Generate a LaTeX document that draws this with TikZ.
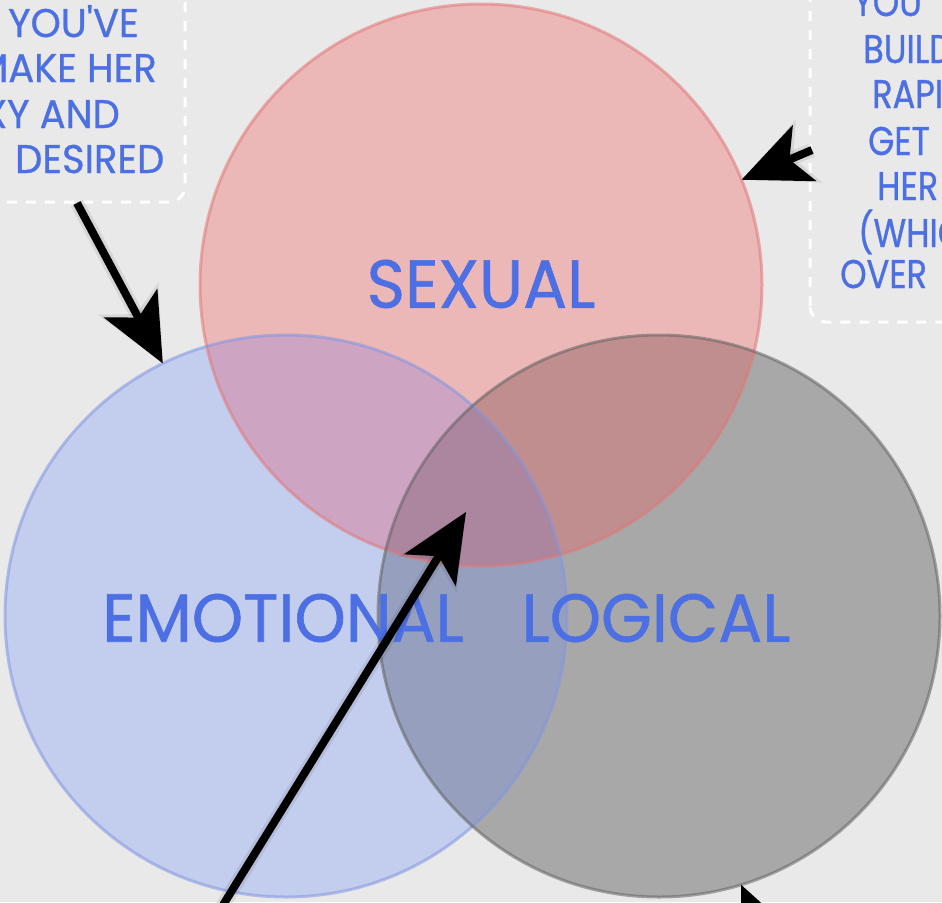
\documentclass[tikz,border=0pt]{standalone}
\usepackage{fontspec}
\setmainfont{Poppins}[FakeStretch=0.96, FakeBold=0.8]
\newfontfamily\narrowpop{Poppins}[FakeStretch=0.84, FakeBold=0.8]
\usetikzlibrary{arrows.meta}
\definecolor{bgc}{RGB}{233,233,233}
\definecolor{rOnly}{RGB}{236,183,183}
\definecolor{bOnly}{RGB}{195,205,238}
\definecolor{gOnly}{RGB}{168,168,168}
\definecolor{rb}{RGB}{205,165,195}
\definecolor{rg}{RGB}{192,142,142}
\definecolor{bgr}{RGB}{150,160,190}
\definecolor{rbg}{RGB}{172,133,158}
\definecolor{redd}{RGB}{225,120,120}
\definecolor{blued}{RGB}{130,150,225}
\definecolor{greyd}{RGB}{100,100,100}
\definecolor{txtblue}{RGB}{76,112,228}
\tikzset{
  circ/.style={circle, minimum size=562pt, inner sep=0pt, outer sep=0pt,
    line width=3pt, draw opacity=.55},
  biglab/.style={inner sep=0pt, text=txtblue, font=\fontsize{68}{68}\selectfont},
  boxtxt/.style={inner sep=0pt, text=txtblue, font=\fontsize{40}{45}\selectfont},
  rboxtxt/.style={inner sep=0pt, text=txtblue, font=\narrowpop\fontsize{40}{45}\selectfont},
  dbox/.style={draw=white, line width=3pt, dash pattern=on 10pt off 9pt, rounded corners=16pt},
  arr/.style={line width=8pt, -{Stealth[length=68pt, width=60pt, inset=16pt]}},
  arrshadow/.style={line width=14pt, draw=black, fill=black, draw opacity=.08, fill opacity=.08,
    -{Stealth[length=72pt, width=66pt, inset=16pt]}, shift={(5pt,-7pt)}}
}
\begin{document}
\begin{tikzpicture}[x=1pt,y=-1pt]
\useasboundingbox (0,0) rectangle (942,902);
\clip (0,0) rectangle (942,902);
\fill[bgc] (0,0) rectangle (942,902);

% dashed text boxes
\draw[dbox] (-40,-40) rectangle (185,202);
\draw[dbox] (810,322) rectangle (990,-40);

% left box text (cut by picture edge)
\node[boxtxt, anchor=base west] (l1) at (8,37) {YOU\textquotesingle VE};
\node[boxtxt, anchor=base east] (l2) at (157,82) {MAKE HER};
\node[boxtxt, anchor=base east] (l3) at (120,128) {XY AND};
\node[boxtxt, anchor=base west] (l4) at (15,173) {DESIRED};

% right box text (cut by picture edge)
\node[rboxtxt, anchor=base west] (r0) at (853,16) {YOU\textquotesingle};
\node[rboxtxt, anchor=base west] (r1) at (863,63) {BUILD};
\node[rboxtxt, anchor=base west] (r2) at (872,108) {RAPI};
\node[rboxtxt, anchor=base west] (r3) at (868,155) {GET};
\node[rboxtxt, anchor=base west] (r4) at (877,200) {HER};
\node[rboxtxt, anchor=base west] (r5) at (858,247) {(WHIC};
\node[rboxtxt, anchor=base west] (r6) at (840,288) {OVER};

% circle fills, region by region
\fill[rOnly] (481,285) circle[radius=281];
\fill[bOnly] (286,616) circle[radius=281];
\fill[gOnly] (659,616) circle[radius=281];
\begin{scope}
  \clip (286,616) circle[radius=281];
  \fill[bgr] (659,616) circle[radius=281];
\end{scope}
\begin{scope}
  \clip (481,285) circle[radius=281];
  \fill[rb] (286,616) circle[radius=281];
  \fill[rg] (659,616) circle[radius=281];
  \clip (286,616) circle[radius=281];
  \fill[rbg] (659,616) circle[radius=281];
\end{scope}

% circle outlines
\node[circ, draw=redd] (sex) at (481,285) {};
\node[circ, draw=blued] (emo) at (286,616) {};
\node[circ, draw=greyd] (log) at (659,616) {};

% labels
\node[biglab] (sexlab) at (481,284) {SEXUAL};
\node[biglab] (emolab) at (283,618) {EMOTIONAL};
\node[biglab] (loglab) at (656,618) {LOGICAL};

% arrows
\coordinate (a1s) at (77,203);
\coordinate (a2s) at (812,150);
\coordinate (a3s) at (189,960);
\coordinate (a3e) at (466,512);
\coordinate (a4s) at (800,1018);

\draw[arrshadow] (a1s) -- (emo.116.6);
\draw[arrshadow] (a2s) -- (sex.22.6);
\draw[arrshadow] (a3s) -- (a3e);

\draw[arr] (a1s) -- (emo.116.6);
\draw[arr] (a2s) -- (sex.22.6);
\draw[arr] (a3s) -- (a3e);
\draw[arr] (a4s) -- (log.287.4);
\end{tikzpicture}
\end{document}
